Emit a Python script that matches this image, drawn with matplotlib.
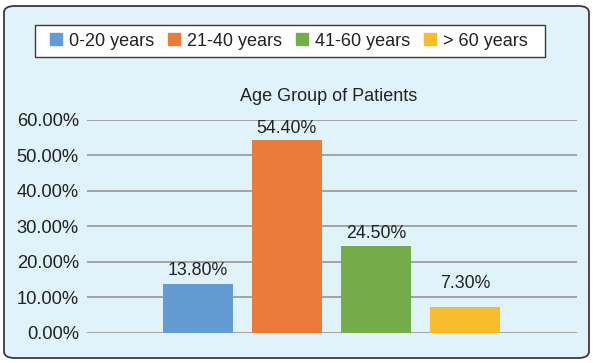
import matplotlib.pyplot as plt
from matplotlib.patches import FancyBboxPatch, Rectangle

categories = ["0-20 years", "21-40 years", "41-60 years", "> 60 years"]
values = [13.80, 54.40, 24.50, 7.30]
labels = ["13.80%", "54.40%", "24.50%", "7.30%"]
yticks = [0, 10, 20, 30, 40, 50, 60]
ytick_labels = ["0.00%", "10.00%", "20.00%", "30.00%", "40.00%", "50.00%", "60.00%"]
colors = ["#629CD3", "#EA7B3A", "#76AD4B", "#F8BD2D"]

plt.rcParams['font.family'] = ['Liberation Sans', 'DejaVu Sans']

W, H = 593, 363
fig = plt.figure(figsize=(W / 100, H / 100), dpi=100)
fig.patch.set_facecolor("white")

bg = FancyBboxPatch((4 / W, 5 / H), 585 / W, 352 / H,
                    boxstyle="round,pad=0,rounding_size=0.018",
                    transform=fig.transFigure, facecolor="#E1F3FA",
                    edgecolor="#3A3A3A", linewidth=1.3, zorder=-5)
fig.patches.append(bg)

# legend frame
lf = Rectangle((35 / W, 1 - 57 / H), 510 / W, 32 / H, transform=fig.transFigure,
               facecolor="white", edgecolor="#3A3A3A", linewidth=1.0, zorder=-4)
fig.patches.append(lf)

ax_l, ax_r = 87, 577
ax_top, ax_bot = 120, 332.5
ax = fig.add_axes([ax_l / W, 1 - ax_bot / H, (ax_r - ax_l) / W, (ax_bot - ax_top) / H])
ax.set_facecolor("none")
ax.set_zorder(2)

x = list(range(len(categories)))
label_gap = [1.3, 0.9, 1.0, 4.0]  # label offset above bars (style)
bars = ax.bar(x, values, width=0.787, color=colors, zorder=3)
for xi, v, lab, g in zip(x, values, labels, label_gap):
    ax.text(xi, v + g, lab, ha="center", va="bottom", fontsize=12.8, color="#222222", zorder=4)

ax.set_xlim(-1.245, 4.26)
ax.set_ylim(0, 60)
ax.set_yticks(yticks)
ax.set_yticklabels(ytick_labels, fontsize=13.2, color="#222222")
ax.set_xticks([])
ax.yaxis.grid(True, color="#A3A3A3", linewidth=1.4, zorder=1)
ax.tick_params(axis="y", length=0, pad=5.8)
for s in ax.spines.values():
    s.set_visible(False)
ax.set_title("Age Group of Patients", fontsize=13, color="#222222", pad=13.7, x=(329 - ax_l) / (ax_r - ax_l))

handles = [plt.Rectangle((0, 0), 1, 1, color=c) for c in colors]
leg = fig.legend(handles, categories, loc="center", ncol=4,
                 bbox_to_anchor=(289 / W, 1 - 41 / H), fontsize=13,
                 frameon=False,
                 handlelength=0.67, handleheight=0.67, handletextpad=0.4,
                 columnspacing=0.75, borderpad=0.45)
leg.set_zorder(5)
for t in leg.get_texts():
    t.set_color("#222222")

fig.savefig("out.png", dpi=100)
